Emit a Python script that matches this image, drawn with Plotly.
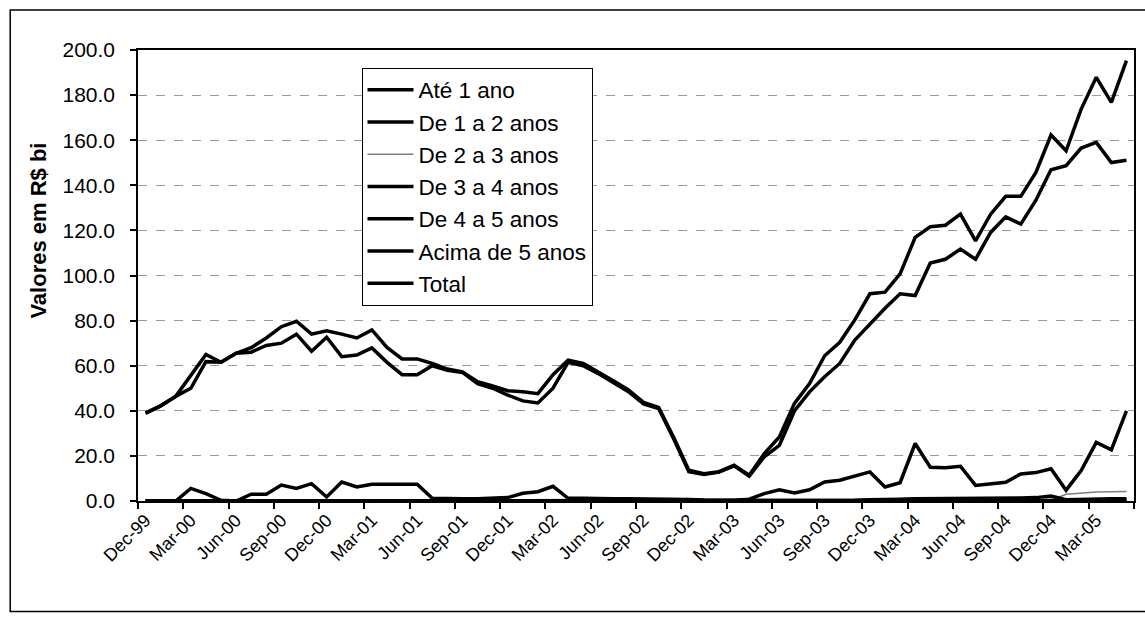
import plotly.graph_objects as go

# Monthly stock, Dec-99 .. May-05 (R$ bi)
months = [
    "Dec-99", "Jan-00", "Feb-00", "Mar-00", "Apr-00", "May-00", "Jun-00", "Jul-00", "Aug-00", "Sep-00", "Oct-00", "Nov-00",
    "Dec-00", "Jan-01", "Feb-01", "Mar-01", "Apr-01", "May-01", "Jun-01", "Jul-01", "Aug-01", "Sep-01", "Oct-01", "Nov-01",
    "Dec-01", "Jan-02", "Feb-02", "Mar-02", "Apr-02", "May-02", "Jun-02", "Jul-02", "Aug-02", "Sep-02", "Oct-02", "Nov-02",
    "Dec-02", "Jan-03", "Feb-03", "Mar-03", "Apr-03", "May-03", "Jun-03", "Jul-03", "Aug-03", "Sep-03", "Oct-03", "Nov-03",
    "Dec-03", "Jan-04", "Feb-04", "Mar-04", "Apr-04", "May-04", "Jun-04", "Jul-04", "Aug-04", "Sep-04", "Oct-04", "Nov-04",
    "Dec-04", "Jan-05", "Feb-05", "Mar-05", "Apr-05", "May-05",
]

ate_1_ano = [
    39.0, 42.2, 46.4, 50.0, 61.8, 61.5, 65.5, 66.0, 69.0, 70.0, 74.0, 66.4,
    72.6, 64.0, 64.7, 67.9, 61.5, 56.0, 56.0, 60.0, 58.0, 57.0, 52.0, 50.0,
    47.0, 44.4, 43.5, 50.0, 61.5, 60.0, 56.5, 52.5, 48.5, 43.0, 41.0, 27.5,
    13.0, 11.8, 12.8, 15.6, 11.0, 19.6, 24.7, 39.9, 48.4, 55.1, 61.0, 71.4,
    78.4, 85.5, 91.9, 91.1, 105.5, 107.2, 111.7, 107.2, 119.1, 126.0, 122.8, 133.4,
    146.9, 148.7, 156.5, 159.0, 150.1, 151.1,
]

de_1_a_2 = [
    0.0, 0.0, 0.0, 5.6, 3.3, 0.3, 0.0, 3.0, 3.0, 7.1, 5.6, 7.7,
    1.8, 8.4, 6.2, 7.4, 7.4, 7.4, 7.4, 1.2, 1.0, 1.0, 1.0, 1.2,
    1.5, 3.4, 4.1, 6.5, 1.2, 1.2, 1.0, 1.0, 1.0, 1.0, 1.0, 0.8,
    0.7, 0.4, 0.3, 0.3, 0.8, 3.3, 5.0, 3.6, 5.0, 8.4, 9.2, 11.0,
    12.9, 6.2, 8.1, 25.5, 15.0, 14.8, 15.4, 6.9, 7.6, 8.3, 12.0, 12.6,
    14.3, 4.8, 13.5, 26.0, 22.7, 40.0,
]

de_2_a_3 = [
    0.0, 0.0, 0.0, 0.0, 0.0, 0.0, 0.0, 0.0, 0.0, 0.0, 0.0, 0.0,
    0.0, 0.0, 0.0, 0.0, 0.0, 0.0, 0.0, 0.0, 0.0, 0.0, 0.0, 0.0,
    0.0, 0.0, 0.0, 0.0, 0.0, 0.0, 0.0, 0.0, 0.0, 0.0, 0.0, 0.0,
    0.0, 0.0, 0.0, 0.0, 0.0, 0.0, 0.0, 0.0, 0.0, 0.0, 0.0, 0.0,
    0.0, 0.0, 0.0, 0.0, 0.0, 0.0, 0.0, 0.0, 0.0, 0.0, 0.0, 0.0,
    0.3, 3.0, 3.6, 4.0, 4.1, 4.2,
]

de_3_a_4 = [
    0.0, 0.0, 0.0, 0.0, 0.0, 0.0, 0.0, 0.0, 0.0, 0.0, 0.0, 0.0,
    0.0, 0.0, 0.0, 0.0, 0.0, 0.0, 0.0, 0.0, 0.0, 0.0, 0.0, 0.0,
    0.0, 0.0, 0.0, 0.0, 0.0, 0.0, 0.0, 0.0, 0.0, 0.0, 0.0, 0.0,
    0.0, 0.0, 0.0, 0.0, 0.0, 0.0, 0.0, 0.0, 0.0, 0.0, 0.0, 0.3,
    0.5, 0.8, 0.8, 1.0, 1.0, 1.0, 1.0, 1.0, 1.1, 1.2, 1.3, 1.5,
    2.2, 0.6, 0.8, 0.9, 1.0, 1.0,
]

de_4_a_5 = [
    0.0, 0.0, 0.0, 0.0, 0.0, 0.0, 0.0, 0.0, 0.0, 0.0, 0.0, 0.0,
    0.0, 0.0, 0.0, 0.0, 0.0, 0.0, 0.0, 0.0, 0.0, 0.0, 0.0, 0.0,
    0.0, 0.0, 0.0, 0.0, 0.0, 0.0, 0.0, 0.0, 0.0, 0.0, 0.0, 0.0,
    0.0, 0.0, 0.0, 0.0, 0.0, 0.0, 0.0, 0.0, 0.0, 0.0, 0.0, 0.0,
    0.0, 0.0, 0.0, 0.0, 0.0, 0.0, 0.0, 0.0, 0.0, 0.0, 0.0, 0.0,
    0.2, 0.2, 0.2, 0.3, 0.3, 0.3,
]

acima_de_5 = [
    0.0, 0.0, 0.0, 0.0, 0.0, 0.0, 0.0, 0.0, 0.0, 0.0, 0.0, 0.0,
    0.0, 0.0, 0.0, 0.0, 0.0, 0.0, 0.0, 0.0, 0.0, 0.0, 0.0, 0.0,
    0.0, 0.0, 0.0, 0.0, 0.0, 0.0, 0.0, 0.0, 0.0, 0.0, 0.0, 0.0,
    0.0, 0.0, 0.0, 0.0, 0.0, 0.0, 0.0, 0.0, 0.0, 0.0, 0.0, 0.0,
    0.0, 0.0, 0.0, 0.0, 0.0, 0.0, 0.0, 0.0, 0.0, 0.0, 0.0, 0.0,
    0.0, 0.0, 0.0, 0.0, 0.0, 0.0,
]

total = [
    39.0, 42.2, 46.4, 55.5, 65.0, 61.5, 65.5, 68.0, 72.3, 77.3, 79.7, 74.0,
    75.5, 74.0, 72.3, 75.9, 68.1, 63.0, 63.0, 61.0, 58.5, 57.3, 52.9, 51.0,
    48.9, 48.4, 47.6, 56.0, 62.5, 61.0, 57.3, 53.3, 49.2, 43.7, 41.5, 28.1,
    13.6, 12.1, 13.0, 15.9, 11.4, 21.0, 28.4, 43.3, 52.1, 64.4, 70.4, 80.3,
    91.9, 92.6, 100.7, 116.9, 121.6, 122.3, 127.2, 115.4, 127.2, 135.1, 135.1, 145.7,
    162.3, 155.3, 173.8, 187.9, 176.8, 195.3,
]

y_ticks = [0, 20, 40, 60, 80, 100, 120, 140, 160, 180, 200]

series = [
    ("Até 1 ano", ate_1_ano, "black", 3.5),
    ("De 1 a 2 anos", de_1_a_2, "black", 3.5),
    ("De 2 a 3 anos", de_2_a_3, "#7f7f7f", 1.5),
    ("De 3 a 4 anos", de_3_a_4, "black", 3.5),
    ("De 4 a 5 anos", de_4_a_5, "black", 3.5),
    ("Acima de 5 anos", acima_de_5, "black", 3.5),
    ("Total", total, "black", 3.5),
]

x_idx = list(range(len(months)))
label_idx = x_idx[::3]
label_txt = months[::3]
boundaries = [i - 0.5 for i in range(0, len(months) + 1, 3)]

fig = go.Figure()
for k, (name, vals, color, w) in enumerate(series):
    fig.add_trace(go.Scatter(
        x=x_idx, y=vals, name=name, mode="lines",
        line=dict(color=color, width=w),
        legendgroup=f"g{k}",
        hoverinfo="skip",
    ))

FONT = "Liberation Sans, Arial, sans-serif"

fig.update_layout(
    width=1145, height=622,
    margin=dict(l=138, r=9, t=50, b=121),
    paper_bgcolor="white", plot_bgcolor="white",
    font=dict(family=FONT, color="black"),
    showlegend=True,
    legend=dict(
        x=0.2244, y=0.961, xanchor="left", yanchor="top",
        bgcolor="white", bordercolor="black", borderwidth=1,
        font=dict(family=FONT, size=22.5, color="black"),
        traceorder="grouped", tracegroupgap=0, itemwidth=46,
    ),
    xaxis=dict(
        range=[-0.5, len(months) - 0.5],
        tickmode="array", tickvals=label_idx, ticktext=label_txt,
        tickangle=-45, ticks="", tickfont=dict(family=FONT, size=18),
        showgrid=False, zeroline=False,
        showline=True, linecolor="black", linewidth=1.5, mirror=True,
        minor=dict(tickmode="array", tickvals=boundaries, ticks="outside",
                   ticklen=6, tickcolor="black", tickwidth=1.5, showgrid=False),
    ),
    yaxis=dict(
        range=[0, 200],
        tickmode="array", tickvals=y_ticks, tickformat=".1f",
        ticks="outside", ticklen=6, tickcolor="black", tickwidth=1.5,
        ticklabelstandoff=11,
        tickfont=dict(family=FONT, size=21),
        showgrid=True, gridcolor="#9a9a9a", gridwidth=1, griddash="dash",
        zeroline=False,
        showline=True, linecolor="black", linewidth=1.5, mirror=True,
    ),
    annotations=[dict(
        text="<b>Valores em R$ bi</b>", textangle=-90,
        xref="paper", yref="paper", x=-0.1002, y=0.60,
        xanchor="center", yanchor="middle",
        showarrow=False, font=dict(family=FONT, size=22, color="black"),
    )],
    shapes=[dict(
        type="rect", xref="paper", yref="paper",
        x0=-0.1283, x1=1.02, y0=-0.245, y1=1.0887,
        line=dict(color="black", width=1.5), layer="below",
    )],
)

fig.write_html("out.html")
